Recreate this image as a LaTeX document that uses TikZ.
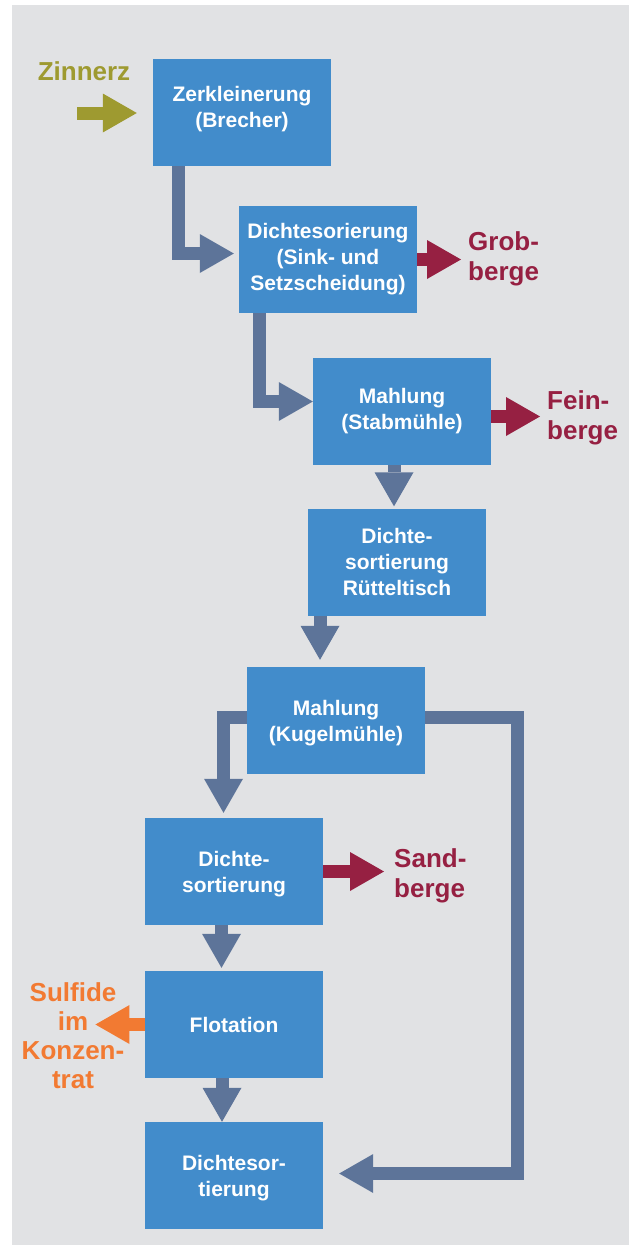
\documentclass[tikz,border=0pt]{standalone}
\usepackage{fontspec}
\setmainfont{Liberation Sans}
\usetikzlibrary{arrows.meta,calc}
\definecolor{bgc}{HTML}{E1E2E4}
\definecolor{boxblue}{HTML}{428CCB}
\definecolor{flowc}{HTML}{5D7499}
\definecolor{cMaroon}{HTML}{962042}
\definecolor{cOrange}{HTML}{F27A32}
\definecolor{cOlive}{HTML}{9E9A30}
\begin{document}
\begin{tikzpicture}[x=1pt,y=-1pt,
  box/.style={fill=boxblue, minimum width=178pt, minimum height=107pt, inner sep=0pt,
    text=white, font=\fontsize{21}{26}\selectfont\bfseries, align=center},
  flow/.style={line width=13pt, color=flowc,
    -{Triangle[width=39pt,length=34pt,line width=0pt]}},
  lab/.style={font=\fontsize{26}{30}\selectfont\bfseries, inner sep=0pt},
]
\useasboundingbox (0,0) rectangle (629,1245);
\fill[bgc] (12,5) rectangle (629,1245);

% process boxes
\node[box, text depth=11pt] (zer) at (242,112.5) {Zerkleinerung\\(Brecher)};
\node[box] (dso) at (328,259.5) {Dichtesorierung\\(Sink- und\\Setzscheidung)};
\node[box] (mst) at (402,411.5) {Mahlung\\(Stabmühle)};
\node[box] (rue) at (397,562) {Dichte-\\sortierung\\Rütteltisch};
\node[box, text depth=-1pt] (kug) at (336,720.5) {Mahlung\\(Kugelmühle)};
\node[box, text depth=-2pt] (ds2) at (234,871.5) {Dichte-\\sortierung};
\node[box] (flo) at (234,1024.5) {Flotation};
\node[box, text depth=-2pt] (ds3) at (234,1175.5) {Dichtesor-\\tierung};

% outside labels
\node[lab, text=cOlive] (zin) at (84,71) {Zinnerz};
\node[lab, text=cMaroon, anchor=west, align=left] (grob) at (468,259) {Grob-\\berge};
\node[lab, text=cMaroon, anchor=west, align=left] (fein) at (547,418) {Fein-\\berge};
\node[lab, text=cMaroon, anchor=west, align=left] (sand) at (394,876) {Sand-\\berge};
\node[lab, text=cOrange, align=center, font=\fontsize{26}{29}\selectfont\bfseries] (sulf) at (73,1035.5) {Sulfide\\im\\Konzen-\\trat};

% connectors
\coordinate (zin0) at (77,113);
\draw[flow, color=cOlive] (zin0) -- ([xshift=-16pt]zer.west |- zin0);
\draw[flow, shorten >=5pt] ([xshift=25.5pt]zer.south west) |- ([yshift=6pt]dso.west);
\draw[flow, color=cMaroon] (dso.east) -- ([xshift=-7pt]grob.west |- dso.east);
\draw[flow] ([xshift=20.5pt]dso.south west) |- ([yshift=10pt]mst.west);
\draw[flow, color=cMaroon] ([yshift=-5pt]mst.east) -- ([xshift=-7pt,yshift=-5pt]fein.west |- mst.east);
\draw[flow, shorten >=2pt] ([xshift=-8pt]mst.south) -- ([xshift=-8pt]mst.south |- rue.north);
\draw[flow, shorten >=7pt] ([xshift=-77pt]rue.south) -- ([xshift=-77pt]rue.south |- kug.north);
\draw[flow, shorten >=5pt] ([yshift=3pt]kug.west) -| ([xshift=-10.5pt]ds2.north);
\coordinate (lp) at (517.5,1173.5);
\draw[flow, shorten >=16pt] ([yshift=3pt]kug.east) -| (lp) -- ([yshift=2pt]ds3.east);
\draw[flow, color=cMaroon] (ds2.east) -- ([xshift=-10pt]sand.west |- ds2.east);
\draw[flow, shorten >=3pt] ([xshift=-12.5pt]ds2.south) -- ([xshift=-12.5pt]ds2.south |- flo.north);
\draw[flow] ([xshift=-12pt]flo.south) -- ([xshift=-12pt]flo.south |- ds3.north);
\draw[flow, color=cOrange] (flo.west) -- ([xshift=-29pt]sulf.east |- flo.west);
\end{tikzpicture}
\end{document}
